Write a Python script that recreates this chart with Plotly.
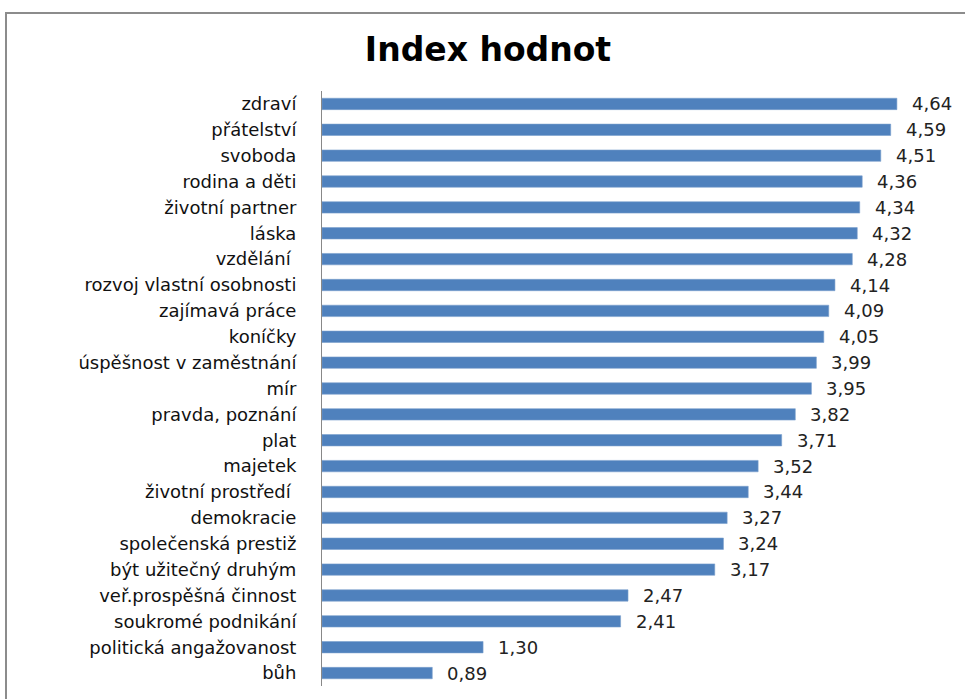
import plotly.graph_objects as go

categories = ["zdraví", "přátelství", "svoboda", "rodina a děti", "životní partner",
              "láska", "vzdělání ", "rozvoj vlastní osobnosti", "zajímavá práce",
              "koníčky", "úspěšnost v zaměstnání", "mír", "pravda, poznání", "plat",
              "majetek", "životní prostředí ", "demokracie", "společenská prestiž",
              "být užitečný druhým", "veř.prospěšná činnost", "soukromé podnikání",
              "politická angažovanost", "bůh"]
values = [4.64, 4.59, 4.51, 4.36, 4.34, 4.32, 4.28, 4.14, 4.09, 4.05, 3.99, 3.95,
          3.82, 3.71, 3.52, 3.44, 3.27, 3.24, 3.17, 2.47, 2.41, 1.30, 0.89]
title_text = "Index hodnot"

labels = [f"{v:.2f}".replace(".", ",") for v in values]

W, H = 965, 699
ml, mr, mt, mb = 322, 5, 91, 13
pw = W - ml - mr
ph = H - mt - mb

fig = go.Figure()
fig.add_trace(go.Bar(
    x=values, y=categories, orientation="h",
    marker=dict(color="#4F81BD", line=dict(color="#7A9FCC", width=0.6)),
    width=0.44, hoverinfo="skip",
))

for c, v, t in zip(categories, values, labels):
    fig.add_annotation(x=v, y=c, text=t, showarrow=False, xanchor="left",
                       xshift=13, font=dict(family="DejaVu Sans", size=18, color="#222"))

def px_x(p):
    return (p - ml) / pw

def px_y(p):
    return (H - mb - p) / ph

fig.add_shape(type="rect", xref="paper", yref="paper",
              x0=px_x(6), x1=px_x(975), y0=px_y(710), y1=px_y(13),
              line=dict(color="#8c8c8c", width=2), layer="below")

fig.update_layout(
    width=W, height=H,
    margin=dict(l=ml, r=mr, t=mt, b=mb),
    paper_bgcolor="white", plot_bgcolor="white",
    showlegend=False,
    title=dict(text=f"<b>{title_text}</b>", x=488 / W, xanchor="center",
               y=1 - 49 / H, yanchor="middle",
               font=dict(family="DejaVu Sans", size=33, color="black")),
    xaxis=dict(range=[0, pw / 123.9], visible=False, showgrid=False),
    yaxis=dict(autorange="reversed", showline=True, linecolor="#888", linewidth=1,
               ticks="", showgrid=False, ticklabelstandoff=21,
               tickfont=dict(family="DejaVu Sans", size=18, color="#111")),
)

fig.write_html("out.html", config={"displayModeBar": False},
               post_script="document.body.style.margin='0';")
